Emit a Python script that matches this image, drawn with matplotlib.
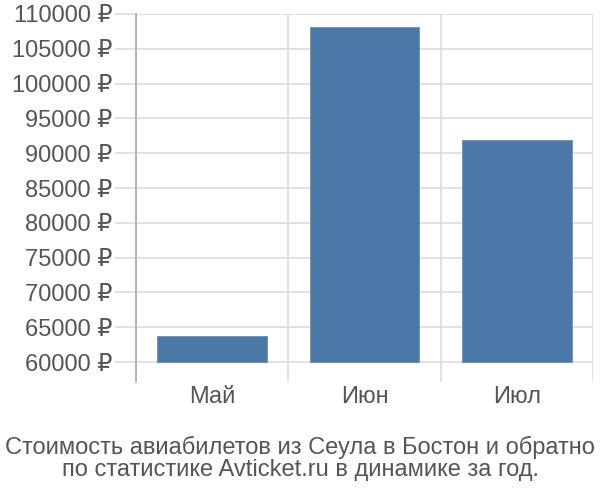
import matplotlib
matplotlib.use('Agg')
import matplotlib.pyplot as plt
import numpy as np

plt.rcParams['font.family'] = ['Liberation Sans', 'DejaVu Sans']

months = ['Май', 'Июн', 'Июл']
prices = [63800, 108150, 91850]
yticks = list(range(60000, 110001, 5000))
title = 'Стоимость авиабилетов из Сеула в Бостон и обратно\nпо статистике Avticket.ru в динамике за год.'

fig = plt.figure(figsize=(6, 5), dpi=100)
ax = fig.add_axes([0.2267, 0.236, 0.7617, 0.736])

x = np.arange(len(months))
base = 60000
ax.bar(x, np.array(prices) - base, bottom=base, width=0.72, color='#4c78a7',
       edgecolor='#6a8fbb', linewidth=0.6, zorder=3)

ax.set_xlim(-0.5, len(months) - 0.5)
ax.set_ylim(57130, 110000)

ax.set_yticks(yticks)
ax.set_yticklabels(['%d ₽' % v for v in yticks])
ax.set_xticks(x)
ax.set_xticklabels(months)
ax.set_xticks(np.arange(-0.5, len(months)), minor=True)

ax.grid(axis='y', which='major', color='#dddddd', linewidth=1.2, zorder=0)
ax.grid(axis='x', which='minor', color='#dddddd', linewidth=1.2, zorder=0)

ax.tick_params(axis='y', which='major', length=15, width=1.2, color='#dddddd',
               labelsize=17, labelcolor='#555555', pad=2)
ax.tick_params(axis='x', which='major', length=0, labelsize=17,
               labelcolor='#555555', pad=3)
ax.tick_params(axis='x', which='minor', length=0)

for s in ['top', 'right', 'bottom']:
    ax.spines[s].set_visible(False)
ax.spines['left'].set_color('#aaaaaa')
ax.spines['left'].set_linewidth(1.2)

fig.text(0.5, 0.084, title, ha='center', va='center', fontsize=17,
         color='#555555', linespacing=1.0)

fig.savefig('out.png', dpi=100)
